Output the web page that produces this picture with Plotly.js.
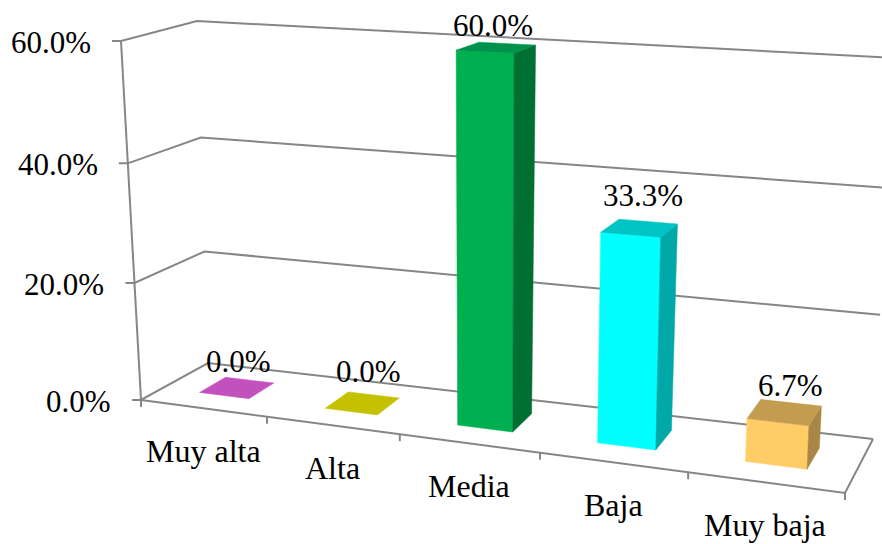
<!DOCTYPE html>
<html>
<head>
<meta charset="utf-8">
<script src="https://cdn.plot.ly/plotly-3.0.1.min.js"></script>
<style>html,body{margin:0;padding:0;background:#fff}</style>
</head>
<body>
<div id="chart" style="width:882px;height:544px"></div>
<script>
// Chart data
const categories = ["Muy alta", "Alta", "Media", "Baja", "Muy baja"];
const percentages = [0, 0, 60, 33.3, 6.7];
const valueTicks = [0, 20, 40, 60];

// Face shades per category
const frontColors = ["#C24DC2", "#C4C200", "#00B050", "#00FFFF", "#FFCC66"];
const topColors = ["#C251BE", "#C4C200", "#00924A", "#00C3C3", "#C49C50"];
const sideColors = ["#9A3D9A", "#9A9A00", "#007032", "#00A8A8", "#A88645"];

// Hand placement of the value labels relative to each bar's top centre
const labelShiftX = [2, 6, -3, 4, 6];
const labelShiftY = [-26, -32, -22, -33, -27];

const VALUE_MAX = 60;
const FONT = "Liberation Serif, Times New Roman, serif";
const GRID = "#868686";
const GRID_WIDTH = 2;

// Box corners of the floor and of the 60% plane: front-left, front-right, back-right, back-left
const floorCorners = [[141, 400], [845, 493], [873, 439], [208, 363]];
const topCorners = [[121, 41], [863, 78], [895, 58], [197, 21]];

function bilinear(q, s, t) {
  const fx = q[0][0] + (q[1][0] - q[0][0]) * s, fy = q[0][1] + (q[1][1] - q[0][1]) * s;
  const bx = q[3][0] + (q[2][0] - q[3][0]) * s, by = q[3][1] + (q[2][1] - q[3][1]) * s;
  return [fx + (bx - fx) * t, fy + (by - fy) * t];
}
// Projective foreshortening along one axis
function foreshorten(x, k) {
  return x * k / (1 + (k - 1) * x);
}

// category position u (0..5), value v, depth d (0 front .. 1 back) to plot coordinates
function project(u, v, d) {
  const s = foreshorten(u / categories.length, 0.872);
  const m = foreshorten(v / VALUE_MAX, 0.967);
  const a = bilinear(floorCorners, s, d), b = bilinear(topCorners, s, d);
  return [a[0] + (b[0] - a[0]) * m, a[1] + (b[1] - a[1]) * m];
}

const traces = [];
function polyline(points, color, width) {
  traces.push({
    type: "scatter", mode: "lines", hoverinfo: "skip", showlegend: false,
    x: points.map(p => p[0]), y: points.map(p => p[1]),
    line: { color: color, width: width }
  });
}
function face(points, color) {
  const closed = points.concat([points[0]]);
  traces.push({
    type: "scatter", mode: "lines", fill: "toself", fillcolor: color,
    hoverinfo: "skip", showlegend: false,
    x: closed.map(p => p[0]), y: closed.map(p => p[1]),
    line: { color: color, width: 0.5 }
  });
}

const annotations = [];
function label(text, x, y, anchor, size) {
  annotations.push({
    xref: "x", yref: "y", x: x, y: y, text: text, showarrow: false,
    xanchor: anchor, yanchor: "middle", borderpad: 0,
    font: { family: FONT, size: size, color: "#000" }
  });
}

// Walls, gridlines and value axis
const n = categories.length;
valueTicks.forEach(v => {
  const front = project(0, v, 0);
  polyline([[front[0] - 9, front[1]], front, project(0, v, 1), project(n, v, 1)], GRID, GRID_WIDTH);
  label(v.toFixed(1) + "%", front[0] - 29, front[1] + 1, "right", 31);
});
polyline([project(0, VALUE_MAX, 0), project(0, 0, 0)], GRID, GRID_WIDTH);

// Floor front edge, side edge and category ticks
polyline([project(0, 0, 0), project(n, 0, 0), project(n, 0, 1)], GRID, GRID_WIDTH);
categories.forEach((name, i) => {
  const mid = project(i + 0.5, 0, 0);
  label(name, mid[0], mid[1] + 43, "center", 32);
});
for (let i = 0; i <= n; i++) {
  const t = project(i, 0, 0);
  polyline([t, [t[0], t[1] + 7]], GRID, GRID_WIDTH);
}

// Bars, left to right in category order
const U0 = 0.30, U1 = 0.70, D0 = 0.33, D1 = 0.73;
percentages.forEach((v, i) => {
  const l = i + U0, r = i + U1;
  if (v > 0) {
    face([project(l, 0, D0), project(r, 0, D0), project(r, v, D0), project(l, v, D0)], frontColors[i]);
    face([project(r, 0, D0), project(r, 0, D1), project(r, v, D1), project(r, v, D0)], sideColors[i]);
  }
  face([project(l, v, D0), project(r, v, D0), project(r, v, D1), project(l, v, D1)], topColors[i]);
  const c = project(i + (U0 + U1) / 2, v, (D0 + D1) / 2);
  label(v.toFixed(1) + "%", c[0] + labelShiftX[i], c[1] + labelShiftY[i], "center", 31);
});

const hidden = { visible: false, fixedrange: true };
Plotly.newPlot("chart", traces, {
  width: 882, height: 544,
  margin: { l: 0, r: 0, t: 0, b: 0 },
  paper_bgcolor: "#fff", plot_bgcolor: "#fff",
  showlegend: false,
  xaxis: Object.assign({ range: [0, 882] }, hidden),
  yaxis: Object.assign({ range: [544, 0] }, hidden),
  annotations: annotations
}, { displayModeBar: false, staticPlot: true });
</script>
</body>
</html>
